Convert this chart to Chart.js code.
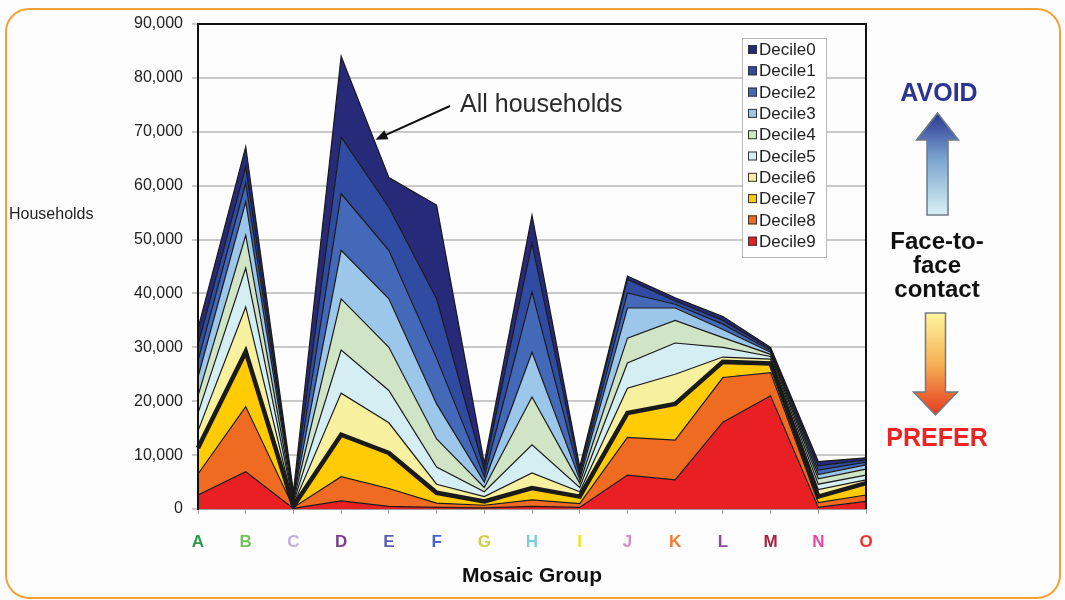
<!DOCTYPE html>
<html>
<head>
<meta charset="utf-8">
<script src="https://cdn.jsdelivr.net/npm/chart.js@4.4.1/dist/chart.umd.min.js"></script>
<style>
  html, body { margin: 0; padding: 0; background: #fdfdfd; }
  #wrap { position: relative; width: 1065px; height: 600px; overflow: hidden; }
  #wrap canvas { position: absolute; left: 0; top: 0; }
  #frame {
    position: absolute; left: 5px; top: 8px; width: 1052px; height: 587px;
    border: 2px solid #f4a235; border-radius: 24px; pointer-events: none;
  }
</style>
</head>
<body>
<div id="wrap">
  <canvas id="chart" width="1065" height="600"></canvas>
  <div id="frame"></div>
</div>
<script>
// Mosaic groups along the x axis and the colour of each group letter
const groups = ['A', 'B', 'C', 'D', 'E', 'F', 'G', 'H', 'I', 'J', 'K', 'L', 'M', 'N', 'O'];
const groupColors = ['#2f9a4c', '#74c05a', '#c2b0dc', '#7b3d8c', '#5a5fb0', '#4b64c4', '#cfcf4a',
                     '#7ccfdc', '#f2e422', '#d78bc8', '#f47a30', '#8d4c9e', '#a5243e', '#e24aa6', '#ea3434'];

// Households in each decile, per Mosaic group (A..O)
const decile0 = [3000, 3700, 500, 15000, 5500, 17400, 1300, 5200, 800, 600, 600, 700, 300, 800, 400];
const decile1 = [3000, 3000, 500, 10500, 8000, 11000, 1200, 9000, 800, 2500, 600, 700, 300, 800, 400];
const decile2 = [3000, 3500, 400, 10500, 9000, 8500, 1000, 11200, 700, 2800, 700, 1000, 300, 800, 500];
const decile3 = [3500, 6200, 400, 9000, 9000, 6500, 1000, 8300, 700, 5600, 2300, 1500, 400, 800, 800];
const decile4 = [3200, 6100, 300, 9500, 8000, 5200, 800, 8900, 800, 4600, 4200, 1800, 400, 1000, 1100];
const decile5 = [3300, 7200, 300, 8000, 6000, 3200, 900, 5200, 800, 4700, 5800, 1800, 500, 1000, 900];
const decile6 = [3200, 8300, 300, 7700, 5600, 1600, 900, 2800, 900, 4600, 5500, 900, 800, 1300, 600];
const decile7 = [4800, 10200, 200, 7800, 6600, 1900, 700, 2200, 1300, 4500, 6700, 2900, 1700, 1100, 2200];
const decile8 = [3900, 12100, 200, 4500, 3300, 800, 500, 1200, 700, 7000, 7400, 8300, 4300, 900, 1200];
const decile9 = [2600, 6900, 100, 1500, 500, 300, 200, 500, 300, 6300, 5400, 16100, 21000, 300, 1400];

const decileNames = ['Decile0', 'Decile1', 'Decile2', 'Decile3', 'Decile4',
                     'Decile5', 'Decile6', 'Decile7', 'Decile8', 'Decile9'];
const decileSeries = [decile0, decile1, decile2, decile3, decile4, decile5, decile6, decile7, decile8, decile9];
const decileColors = ['#272a78', '#2f4ba2', '#4569b9', '#9dc7ea', '#cfe5c6', '#d5eef3',
                      '#f7f09e', '#ffcb05', '#f06b22', '#e82024'];

// Value axis ticks
const yTickValues = [0, 10000, 20000, 30000, 40000, 50000, 60000, 70000, 80000, 90000];

const FONT = 'Arial, "Liberation Sans", sans-serif';

// Stack order: Decile9 at the bottom, Decile0 on top
const datasets = decileNames.map((name, i) => ({
  label: name,
  data: decileSeries[i],
  backgroundColor: decileColors[i],
  borderColor: '#1a1a1a',
  borderWidth: i === 7 ? 4.5 : 1.2,
  fill: i === 9 ? 'origin' : '-1',
  pointRadius: 0,
  pointHoverRadius: 0,
  tension: 0
})).reverse();

// Black frame on top, left and right of the plot area
const framePlugin = {
  id: 'plotFrame',
  afterDatasetsDraw(chart) {
    const { ctx, chartArea: a } = chart;
    ctx.save();
    ctx.strokeStyle = '#111';
    ctx.lineWidth = 2;
    ctx.beginPath();
    ctx.moveTo(a.left, a.bottom);
    ctx.lineTo(a.left, a.top);
    ctx.lineTo(a.right, a.top);
    ctx.lineTo(a.right, a.bottom);
    ctx.stroke();
    ctx.restore();
  }
};

// Legend box inside the plot, Decile0 first
const legendPlugin = {
  id: 'insideLegend',
  afterDraw(chart) {
    const { ctx } = chart;
    const x0 = 742, y0 = 38, w = 84, rowH = 21.3, firstRow = 49.5;
    const h = rowH * decileNames.length + 6;
    ctx.save();
    ctx.fillStyle = '#ffffff';
    ctx.fillRect(x0, y0, w, h);
    ctx.strokeStyle = '#b8b8b8';
    ctx.lineWidth = 1;
    ctx.strokeRect(x0 + 0.5, y0 + 0.5, w, h);
    ctx.font = '17px ' + FONT;
    ctx.textBaseline = 'middle';
    ctx.textAlign = 'left';
    decileNames.forEach((name, i) => {
      const cy = firstRow + i * rowH;
      ctx.fillStyle = decileColors[i];
      ctx.fillRect(x0 + 6, cy - 4.5, 9, 9);
      ctx.strokeStyle = '#333';
      ctx.strokeRect(x0 + 6.5, cy - 4, 8, 8);
      ctx.fillStyle = '#222';
      ctx.fillText(name, x0 + 17, cy + 1);
    });
    ctx.restore();
  }
};

function blockArrow(ctx, cx, shaftTop, shaftBottom, shaftHalf, headBase, tipY, headHalf, grad, pointsUp) {
  ctx.beginPath();
  if (pointsUp) {
    ctx.moveTo(cx, tipY);
    ctx.lineTo(cx + headHalf, headBase);
    ctx.lineTo(cx + shaftHalf, headBase);
    ctx.lineTo(cx + shaftHalf, shaftBottom);
    ctx.lineTo(cx - shaftHalf, shaftBottom);
    ctx.lineTo(cx - shaftHalf, headBase);
    ctx.lineTo(cx - headHalf, headBase);
  } else {
    ctx.moveTo(cx - shaftHalf, shaftTop);
    ctx.lineTo(cx + shaftHalf, shaftTop);
    ctx.lineTo(cx + shaftHalf, headBase);
    ctx.lineTo(cx + headHalf, headBase);
    ctx.lineTo(cx, tipY);
    ctx.lineTo(cx - headHalf, headBase);
    ctx.lineTo(cx - shaftHalf, headBase);
  }
  ctx.closePath();
  ctx.fillStyle = grad;
  ctx.fill();
  ctx.strokeStyle = '#6f7b86';
  ctx.lineWidth = 1.5;
  ctx.stroke();
}

// Axis caption, "All households" callout and the contact-preference key
const notesPlugin = {
  id: 'notes',
  afterDraw(chart) {
    const { ctx } = chart;
    const xs = chart.scales.x, ys = chart.scales.y;
    ctx.save();

    ctx.fillStyle = '#222';
    ctx.font = '16px ' + FONT;
    ctx.textAlign = 'left';
    ctx.textBaseline = 'middle';
    ctx.fillText('Households', 9, 215);

    // Callout pointing at the top of the stack between D and E
    const totals = groups.map((g, i) => decileSeries.reduce((s, arr) => s + arr[i], 0));
    const f = 0.72;
    const tipX = xs.getPixelForValue(3) + f * (xs.getPixelForValue(4) - xs.getPixelForValue(3));
    const tipY = ys.getPixelForValue(totals[3] + f * (totals[4] - totals[3])) - 4;
    const startX = 450, startY = 106;
    ctx.font = '25px ' + FONT;
    ctx.fillStyle = '#2a2a2a';
    ctx.fillText('All households', 460, 105);
    const ang = Math.atan2(tipY - startY, tipX - startX);
    ctx.strokeStyle = '#111';
    ctx.lineWidth = 2;
    ctx.beginPath();
    ctx.moveTo(startX, startY);
    ctx.lineTo(tipX - 9 * Math.cos(ang), tipY - 9 * Math.sin(ang));
    ctx.stroke();
    ctx.beginPath();
    ctx.moveTo(tipX, tipY);
    ctx.lineTo(tipX - 12 * Math.cos(ang) + 5 * Math.sin(ang), tipY - 12 * Math.sin(ang) - 5 * Math.cos(ang));
    ctx.lineTo(tipX - 12 * Math.cos(ang) - 5 * Math.sin(ang), tipY - 12 * Math.sin(ang) + 5 * Math.cos(ang));
    ctx.closePath();
    ctx.fillStyle = '#111';
    ctx.fill();

    // AVOID / PREFER key
    ctx.textAlign = 'center';
    ctx.font = 'bold 25px ' + FONT;
    ctx.fillStyle = '#2b3590';
    ctx.fillText('AVOID', 939, 94);

    const up = ctx.createLinearGradient(0, 113, 0, 215);
    up.addColorStop(0, '#2a3592');
    up.addColorStop(0.45, '#7aa5cf');
    up.addColorStop(1, '#d9f1f5');
    blockArrow(ctx, 937.5, 0, 215, 10.5, 140, 113, 21, up, true);

    ctx.font = 'bold 24px ' + FONT;
    ctx.fillStyle = '#111';
    ctx.fillText('Face-to-', 937, 242);
    ctx.fillText('face', 937, 266);
    ctx.fillText('contact', 937, 290);

    const down = ctx.createLinearGradient(0, 313, 0, 415);
    down.addColorStop(0, '#fff59c');
    down.addColorStop(0.5, '#f7b055');
    down.addColorStop(1, '#e63a1f');
    blockArrow(ctx, 935.5, 313, 0, 10, 392, 415, 22, down, false);

    ctx.font = 'bold 25px ' + FONT;
    ctx.fillStyle = '#ee2424';
    ctx.fillText('PREFER', 937, 439);

    ctx.restore();
  }
};

new Chart(document.getElementById('chart'), {
  type: 'line',
  data: { labels: groups, datasets },
  options: {
    responsive: false,
    animation: false,
    events: [],
    layout: { padding: { top: 24, right: 199, left: 0, bottom: 0 } },
    plugins: {
      legend: { display: false },
      tooltip: { enabled: false },
      filler: { drawTime: 'beforeDatasetsDraw', propagate: false }
    },
    scales: {
      x: {
        offset: false,
        grid: { display: true, drawOnChartArea: false, drawTicks: true, tickLength: 5, color: '#9a9a9a', lineWidth: 1 },
        border: { display: true, color: '#9a9a9a', width: 2 },
        ticks: {
          color: (c) => groupColors[c.index],
          font: { family: FONT, size: 17, weight: 'bold' },
          padding: 18, maxRotation: 0, autoSkip: false
        },
        title: {
          display: true, text: 'Mosaic Group', color: '#111',
          font: { family: FONT, size: 21, weight: 'bold' },
          padding: { top: 4, bottom: 11 }
        },
        afterFit: (s) => { s.height = 91; }
      },
      y: {
        stacked: true,
        min: 0,
        max: 90000,
        afterBuildTicks: (s) => { s.ticks = yTickValues.map((v) => ({ value: v })); },
        grid: { color: '#c9c9c9', lineWidth: 2, tickLength: 6, drawTicks: true },
        border: { display: true, color: '#111', width: 2 },
        ticks: {
          padding: 9, color: '#222',
          font: { family: FONT, size: 16 },
          callback: (v) => Number(v).toLocaleString('en-US')
        },
        afterFit: (s) => { s.width = 198; }
      }
    }
  },
  plugins: [framePlugin, legendPlugin, notesPlugin]
});
</script>
</body>
</html>
